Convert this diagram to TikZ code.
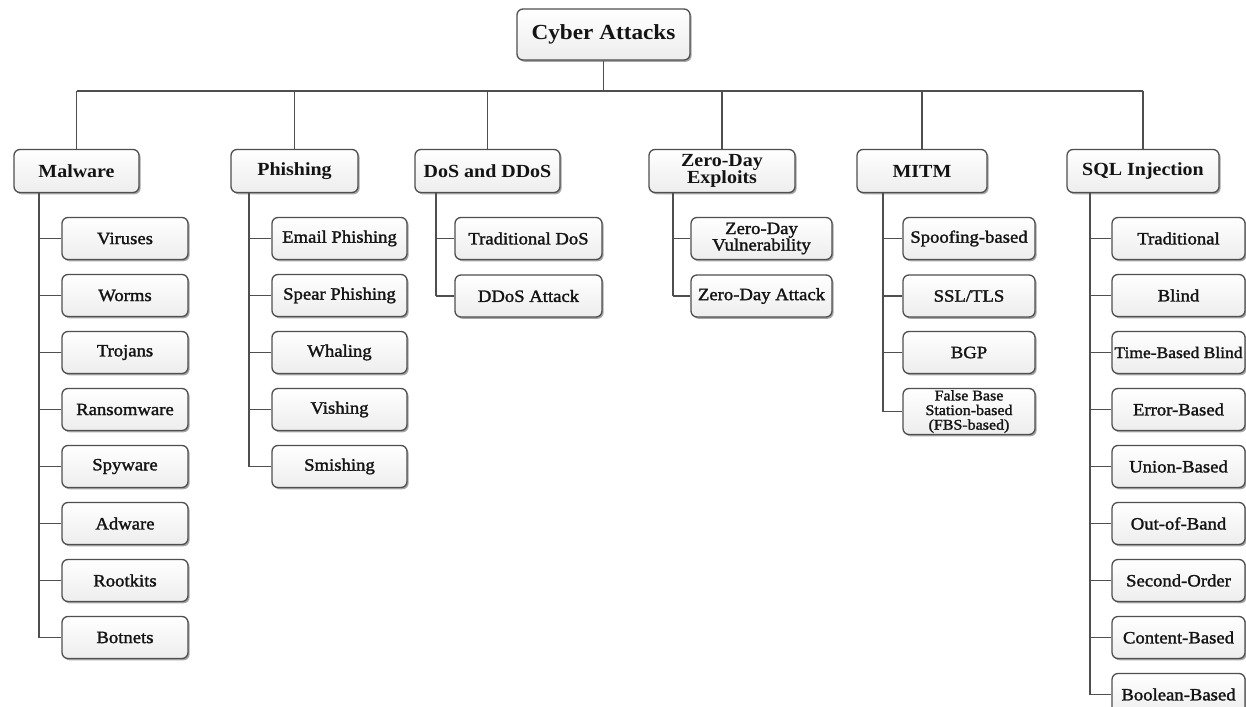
\documentclass[tikz,border=0pt]{standalone}
\usepackage{fontspec}
\setmainfont{Liberation Serif}[FakeStretch=1.08]
\newfontfamily\leaffont{Liberation Serif}[FakeStretch=1.08, FakeBold=1.6]
\usetikzlibrary{shadows}

\definecolor{edgegray}{HTML}{4F4F4F}
\definecolor{inkdark}{HTML}{141414}

\tikzset{
  box/.style={draw=edgegray, line width=1.3pt, rounded corners=6pt,
    top color=white, bottom color=gray!14, text=inkdark, align=center,
    inner sep=2pt,
    drop shadow={shadow xshift=1.6pt, shadow yshift=-1.8pt, opacity=0.35, fill=black}},
  rootbox/.style={box, minimum width=173pt, minimum height=51pt,
    font=\fontsize{21.5}{22}\selectfont\bfseries},
  catbox/.style={box, minimum height=43pt,
    font=\fontsize{18.5}{17.5}\selectfont\bfseries},
  leafbox/.style={box, minimum height=42pt,
    font=\leaffont\fontsize{17.3}{16.5}\selectfont},
  link/.style={draw=edgegray, line width=1.6pt}
}

\begin{document}
\begin{tikzpicture}[x=1pt, y=-1pt]
\useasboundingbox (0,0) rectangle (1246,706);
\clip (0,0) rectangle (1246,706);
\fill[white] (0,0) rectangle (1246,706);

% root
\node[rootbox] (root) at (603.5,34.5) {Cyber Attacks};

% categories
\node[catbox, minimum width=125pt] (mal) at (76.5,171) {Malware};
\node[catbox, minimum width=127pt] (phi) at (294.5,171) {Phishing};
\node[catbox, minimum width=145pt] (dos) at (487.5,171) {DoS and DDoS};
\node[catbox, minimum width=146pt] (zd)  at (722,171) {Zero-Day\\Exploits};
\node[catbox, minimum width=130pt] (mitm) at (922,171) {MITM};
\node[catbox, minimum width=152pt] (sql) at (1143,171) {SQL Injection};

% bus from the root to the categories
\coordinate (busL) at (mal.north |- 0,91);
\coordinate (busR) at (sql.north |- 0,91);
\draw[link] (root.south) -- (root.south |- busL);
\draw[link] (busL) -- (busR);
\foreach \c in {mal,phi,dos,zd,mitm,sql}
  \draw[link] (\c.north) -- (\c.north |- busL);

% Malware
\foreach \t [count=\i] in {Viruses,Worms,Trojans,Ransomware,Spyware,Adware,Rootkits,Botnets}
  \node[leafbox, minimum width=126pt] (mal\i) at (125,{238.5+57*(\i-1)}) {\t};

% Phishing
\foreach \t [count=\i] in {Email Phishing,Spear Phishing,Whaling,Vishing,Smishing}
  \node[leafbox, minimum width=135pt] (phi\i) at (339.5,{238.5+57*(\i-1)}) {\t};

% DoS and DDoS
\node[leafbox, minimum width=147pt] (dos1) at (528.5,238.5) {Traditional DoS};
\node[leafbox, minimum width=147pt] (dos2) at (528.5,296) {DDoS Attack};

% Zero-Day Exploits
\node[leafbox, minimum width=141pt] (zd1) at (761.5,238.5) {Zero-Day\\Vulnerability};
\node[leafbox, minimum width=141pt] (zd2) at (761.5,296) {Zero-Day Attack};

% MITM
\node[leafbox, minimum width=132pt] (mitm1) at (969,238.5) {Spoofing-based};
\node[leafbox, minimum width=132pt] (mitm2) at (969,296) {SSL/TLS};
\node[leafbox, minimum width=132pt] (mitm3) at (969,352.5) {BGP};
\node[leafbox, minimum width=132pt, minimum height=46pt, inner ysep=0pt,
      font=\leaffont\fontsize{14.8}{14.6}\selectfont] (mitm4) at (969,411.5)
      {False Base\\Station-based\\(FBS-based)};

% SQL Injection
\foreach \t [count=\i] in {Traditional,Blind,Time-Based Blind,Error-Based,Union-Based,Out-of-Band,Second-Order,Content-Based,Boolean-Based}
  \node[leafbox, minimum width=133pt, inner xsep=0pt] (sql\i) at (1178.5,{238.5+57*(\i-1)})
    {\ifnum\i=3 \fontsize{16.2}{16}\selectfont\fi\t};

% trunks and branches
\coordinate (malT)  at (39,192);
\coordinate (phiT)  at (249,192);
\coordinate (dosT)  at (436,192);
\coordinate (zdT)   at (673,192);
\coordinate (mitmT) at (883,192);
\coordinate (sqlT)  at (1090,192);

\draw[link] (malT) -- (malT |- mal8.west);
\foreach \i in {1,...,8} \draw[link] (mal\i.west -| malT) -- (mal\i.west);
\draw[link] (phiT) -- (phiT |- phi5.west);
\foreach \i in {1,...,5} \draw[link] (phi\i.west -| phiT) -- (phi\i.west);
\draw[link] (dosT) -- (dosT |- dos2.west);
\foreach \i in {1,2} \draw[link] (dos\i.west -| dosT) -- (dos\i.west);
\draw[link] (zdT) -- (zdT |- zd2.west);
\foreach \i in {1,2} \draw[link] (zd\i.west -| zdT) -- (zd\i.west);
\draw[link] (mitmT) -- (mitmT |- mitm4.west);
\foreach \i in {1,...,4} \draw[link] (mitm\i.west -| mitmT) -- (mitm\i.west);
\draw[link] (sqlT) -- (sqlT |- sql9.west);
\foreach \i in {1,...,9} \draw[link] (sql\i.west -| sqlT) -- (sql\i.west);
\end{tikzpicture}
\end{document}
